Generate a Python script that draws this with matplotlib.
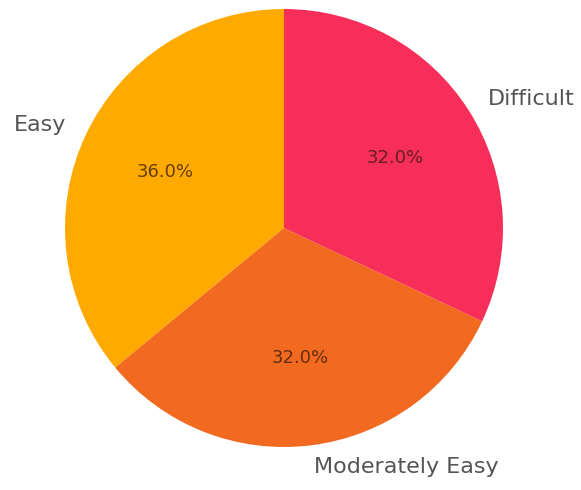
import matplotlib.pyplot as plt

labels = ['Easy', 'Moderately Easy', 'Difficult']
shares = [36, 32, 32]
colors = ['#FFAA00', '#F26A1F', '#F72E59']

W, H = 581, 490
cx, cy, r = 284, 228, 219

fig = plt.figure(figsize=(W / 100, H / 100), dpi=100)
ax = fig.add_axes([0, 0, 1, 1])

wedges, texts, autotexts = ax.pie(shares, labels=labels, colors=colors,
                                  autopct='%1.1f%%', startangle=90,
                                  textprops={'fontsize': 16, 'color': '#555555'})
for t in autotexts:
    t.set_color((0.2, 0.1, 0.05, 0.75))
    t.set_fontsize(13)

ax.set_xlim(-cx / r, (W - cx) / r)
ax.set_ylim(-(H - cy) / r, cy / r)
ax.set_aspect('auto')
ax.axis('off')

plt.savefig('out.png', dpi=100)
